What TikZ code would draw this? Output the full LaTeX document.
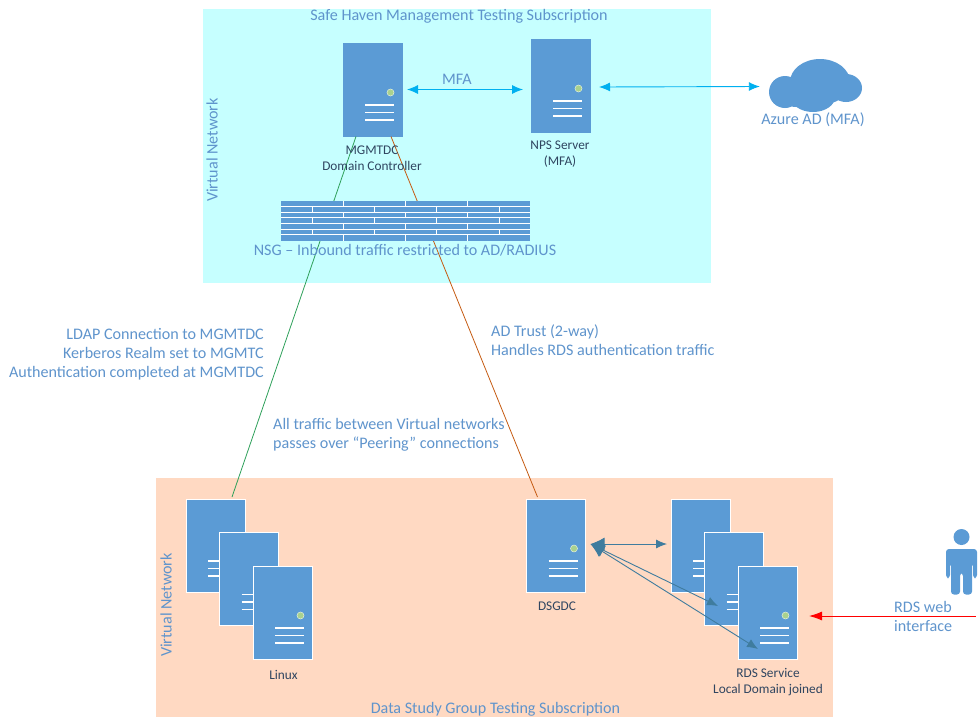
\documentclass[tikz,border=0pt]{standalone}
\usepackage{fontspec}
\setmainfont{Carlito}
\usetikzlibrary{calc,arrows.meta}
\definecolor{srvblue}{HTML}{5B9BD5}
\definecolor{lbl}{HTML}{5F94CC}
\definecolor{darktxt}{HTML}{2F4560}
\definecolor{cyanbg}{HTML}{C6FFFF}
\definecolor{peachbg}{HTML}{FFD9C2}
\definecolor{dotg}{HTML}{A9D18E}
\definecolor{mfa}{HTML}{00B0F0}
\definecolor{dsgc}{HTML}{3F7C9E}
\definecolor{grn}{HTML}{2EA05A}
\definecolor{org}{HTML}{C55A11}
\tikzset{
 x=1pt,y=-1pt,
 zone/.style={fill=#1,draw=none,inner sep=0pt,anchor=north west},
 srvbox/.style={fill=srvblue,draw=#1,line width=0.9pt,minimum width=59pt,minimum height=93pt,inner sep=0pt,outer sep=0pt,anchor=north west},
 biglbl/.style={text=lbl,font=\fontsize{16.1}{19}\selectfont,inner sep=0pt,align=center},
 multilbl/.style={text=lbl,font=\fontsize{16.1}{19}\selectfont,inner sep=0pt},
 smlbl/.style={text=darktxt,font=\fontsize{13.3}{16}\selectfont,inner sep=0pt,align=center},
 marrow/.style={mfa,line width=0.9pt,{Latex[length=11pt,width=9pt]}-{Latex[length=11pt,width=9pt]}},
 darrow/.style={dsgc,line width=0.9pt,{Latex[length=14pt,width=13pt]}-{Latex[length=11pt,width=9pt]}},
 brick/.style={white,line width=1pt},
}
% #1 name, #2 x, #3 y, #4 border colour
\newcommand{\srvdraw}[4]{%
 \node[srvbox=#4] (#1) at (#2,#3) {};
 \fill[dotg,draw=white!70!dotg,line width=0.5pt] ($(#1.north west)+(47.5,49.5)$) circle[radius=3.5];
 \foreach \yy in {62,69.5,77}{\draw[white,line width=1.8pt] ($(#1.north west)+(22,\yy)$) -- ($(#1.north west)+(51,\yy)$);}
}
\begin{document}
\begin{tikzpicture}
\useasboundingbox (0,0) rectangle (979,726);
\node[zone=cyanbg,minimum width=508pt,minimum height=274pt] (mgmtzone) at (203,9) {};
\node[zone=peachbg,minimum width=677pt,minimum height=239pt] (dsgzone) at (156,478) {};

% servers
\srvdraw{mgmt}{343}{43}{srvblue}
\srvdraw{nps}{531}{39}{srvblue}
\srvdraw{dsg}{526.5}{499}{white}
\srvdraw{rdsa}{671}{499}{white}
\srvdraw{rdsb}{704.5}{532.5}{white}
\srvdraw{rdsc}{738}{566}{white}
\srvdraw{lina}{186}{499}{white}
\srvdraw{linb}{219.5}{532.5}{white}
\srvdraw{linc}{253}{566}{white}

% peering connectors
\draw[grn,line width=0.8pt] ($(mgmt.south west)+(13,0.5)$) -- ($(lina.north west)+(46,-2)$);
\draw[org,line width=0.8pt] ($(mgmt.south west)+(48,0.5)$) -- ($(dsg.north west)+(11,-2)$);

% firewall
\node[fill=srvblue,draw=none,minimum width=249pt,minimum height=39.5pt,inner sep=0pt,anchor=north west] (nsg) at (281,201) {};
\foreach \i in {1,...,6}{\draw[brick] ($(nsg.north west)+(0,5.65*\i)$) -- ($(nsg.north east)+(0,5.65*\i)$);}
\foreach \i in {0,2,4,6}{\foreach \xx in {62,124,186}{\draw[brick,line width=0.8pt] ($(nsg.north west)+(\xx,5.65*\i)$) -- ++(0,5.65);}}
\foreach \i in {1,3,5}{\foreach \xx in {31,93,155,218}{\draw[brick,line width=0.8pt] ($(nsg.north west)+(\xx,5.65*\i)$) -- ++(0,5.65);}}

% cloud
\node[inner sep=0pt,minimum width=93pt,minimum height=53pt] (cloud) at (815.5,85.5) {};
\fill[srvblue]
 (785,92) circle[radius=16]
 (820,82) ellipse[x radius=30,y radius=23]
 (838,76) circle[radius=9]
 (846,88) ellipse[x radius=16,y radius=14]
 (813,97) ellipse[x radius=22,y radius=15]
 (796,95) ellipse[x radius=14,y radius=12];

% person
\fill[srvblue] (961.5,537) circle[radius=8];
\fill[srvblue,rounded corners=3pt] (946,549) -- (977,549) -- (977,578) -- (973,578) -- (973,563) -- (972,563) -- (972,594.5) -- (963,594.5) -- (963,573) -- (960,573) -- (960,594.5) -- (951,594.5) -- (951,563) -- (950,563) -- (950,578) -- (946,578) -- cycle;
\node[inner sep=0pt,minimum size=0pt] (user) at (976,616) {};

% arrows
\draw[marrow] ($(mgmt.east)+(5,0)$) -- ($(nps.west)+(-8,4)$);
\draw[marrow] ($(nps.east)+(9,1.5)$) -- ($(cloud.west)+(-9,1)$);
\draw[red,line width=0.9pt,-{Latex[length=13pt,width=9pt]}] (user) -- ($(rdsc.east)+(12,3.5)$);
\draw[darrow] ($(dsg.east)+(5,-1.5)$) -- ($(rdsa.west)+(-4,-1.5)$);
\draw[darrow] ($(dsg.east)+(5,-1.5)$) -- ($(rdsb.west)+(13.5,27)$);
\draw[darrow] ($(dsg.east)+(5,-1.5)$) -- ($(rdsc.west)+(20,36.5)$);

% labels
\node[biglbl] (t1) at (459,16) {Safe Haven Management Testing Subscription};
\node[biglbl] (t2) at (495.5,709) {Data Study Group Testing Subscription};
\node[biglbl,rotate=90] (t3) at (212,150) {Virtual Network};
\node[biglbl,rotate=90] (t4) at (166,605) {Virtual Network};
\node[biglbl] (t5) at (457,79.5) {MFA};
\node[biglbl] (t6) at (405,250) {NSG – Inbound traffic restricted to AD/RADIUS};
\node[biglbl] (t7) at (813,120) {Azure AD (MFA)};
\node[multilbl,align=right,anchor=north east] (t8) at (264,328.5) {LDAP Connection to MGMTDC\\Kerberos Realm set to MGMTC\\Authentication completed at MGMTDC};
\node[multilbl,align=left,anchor=north west] (t9) at (491,324.5) {AD Trust (2-way)\\Handles RDS authentication traffic};
\node[multilbl,align=left,anchor=north west] (t10) at (273,418.5) {All traffic between Virtual networks\\passes over “Peering” connections};
\node[multilbl,align=left,anchor=north west] (t11) at (894,601.5) {RDS web\\interface};
\node[smlbl,font=\fontsize{13.3}{16}\selectfont] (s1) at (372,158.5) {MGMTDC\\Domain Controller};
\node[smlbl,font=\fontsize{13.3}{15.5}\selectfont] (s2) at (560,154) {NPS Server\\(MFA)};
\node[smlbl] (s3) at (557,606.5) {DSGDC};
\node[smlbl] (s4) at (283.5,674.5) {Linux};
\node[smlbl,font=\fontsize{13.3}{16}\selectfont] (s5) at (768,682.5) {RDS Service\\Local Domain joined};
\end{tikzpicture}
\end{document}
